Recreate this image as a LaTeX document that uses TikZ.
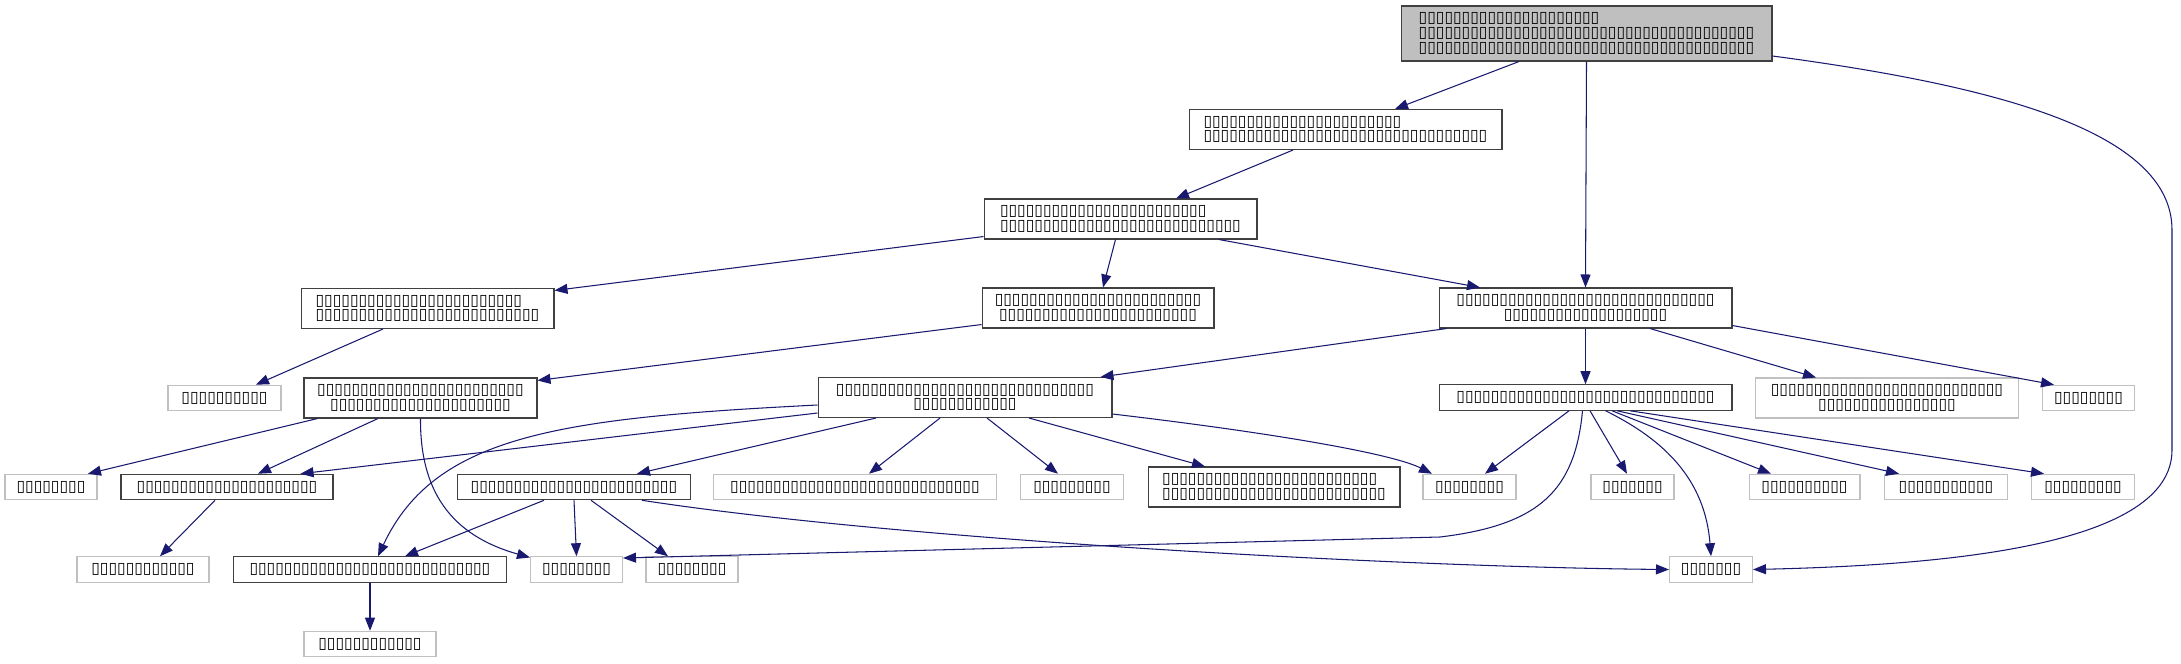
\documentclass[tikz,border=0pt]{standalone}
\usepackage{fontspec}
\setmainfont{DejaVu Sans}
\usepackage{xcolor}
\usetikzlibrary{arrows.meta}

\definecolor{edgeblue}{HTML}{191970}
\definecolor{greyfill}{HTML}{BFBFBF}
\definecolor{greyline}{HTML}{C0C0C0}
\definecolor{darkline}{HTML}{404040}

\begin{document}
\begin{tikzpicture}[
    x=0.02cm, y=-0.02cm,
    font=\fontsize{8.9}{8.34}\selectfont,
    hdr/.style={
        rectangle,
        draw=darkline,
        line width=0.6pt,
        inner sep=0pt,
        minimum height=0.51cm,
        align=center
    },
    ext/.style={hdr, draw=greyline},
    rootbox/.style={hdr, fill=greyfill, minimum height=1.1cm, align=left},
    two/.style={minimum height=0.8cm},
    dep/.style={-{Triangle[length=0.26cm, width=0.2cm]}, edgeblue, line width=0.6pt}
]
\useasboundingbox (0,0) rectangle (2181,663);

% Files
\node[rootbox, minimum width=7.42cm] (top) at (1586.5,33.5) {▯▯▯▯▯▯▯▯▯▯▯▯▯▯▯▯▯▯▯▯▯\\▯▯▯▯▯▯▯▯▯▯▯▯▯▯▯▯▯▯▯▯▯▯▯▯▯▯▯▯▯▯▯▯▯▯▯▯▯▯▯\\▯▯▯▯▯▯▯▯▯▯▯▯▯▯▯▯▯▯▯▯▯▯▯▯▯▯▯▯▯▯▯▯▯▯▯▯▯▯▯};
\node[hdr, two, align=left, minimum width=6.26cm] (ha) at (1345.5,129.5) {▯▯▯▯▯▯▯▯▯▯▯▯▯▯▯▯▯▯▯▯▯▯▯\\▯▯▯▯▯▯▯▯▯▯▯▯▯▯▯▯▯▯▯▯▯▯▯▯▯▯▯▯▯▯▯▯▯};
\node[hdr, two, align=left, minimum width=5.46cm] (hb) at (1120.5,219) {▯▯▯▯▯▯▯▯▯▯▯▯▯▯▯▯▯▯▯▯▯▯▯▯\\▯▯▯▯▯▯▯▯▯▯▯▯▯▯▯▯▯▯▯▯▯▯▯▯▯▯▯▯};
\node[hdr, two, align=left, minimum width=5.06cm] (hc) at (427.5,308.5) {▯▯▯▯▯▯▯▯▯▯▯▯▯▯▯▯▯▯▯▯▯▯▯▯\\▯▯▯▯▯▯▯▯▯▯▯▯▯▯▯▯▯▯▯▯▯▯▯▯▯▯};
\node[hdr, two, minimum width=4.64cm] (hd) at (1098,308) {▯▯▯▯▯▯▯▯▯▯▯▯▯▯▯▯▯▯▯▯▯▯▯▯\\▯▯▯▯▯▯▯▯▯▯▯▯▯▯▯▯▯▯▯▯▯▯▯};
\node[hdr, two, minimum width=5.86cm] (he) at (1585.5,308) {▯▯▯▯▯▯▯▯▯▯▯▯▯▯▯▯▯▯▯▯▯▯▯▯▯▯▯▯▯▯\\▯▯▯▯▯▯▯▯▯▯▯▯▯▯▯▯▯▯▯};

\node[ext, minimum width=2.26cm] (sf) at (224.5,398) {▯▯▯▯▯▯▯▯▯▯};
\node[hdr, two, minimum width=4.66cm] (hg) at (420.5,398) {▯▯▯▯▯▯▯▯▯▯▯▯▯▯▯▯▯▯▯▯▯▯▯▯\\▯▯▯▯▯▯▯▯▯▯▯▯▯▯▯▯▯▯▯▯▯};
\node[hdr, two, minimum width=5.88cm] (hh) at (965,397.5) {▯▯▯▯▯▯▯▯▯▯▯▯▯▯▯▯▯▯▯▯▯▯▯▯▯▯▯▯▯▯\\▯▯▯▯▯▯▯▯▯▯▯▯};
\node[hdr, minimum width=5.86cm] (hi) at (1585.5,397.5) {▯▯▯▯▯▯▯▯▯▯▯▯▯▯▯▯▯▯▯▯▯▯▯▯▯▯▯▯▯▯};
\node[ext, two, minimum width=5.26cm] (sj) at (1887,398) {▯▯▯▯▯▯▯▯▯▯▯▯▯▯▯▯▯▯▯▯▯▯▯▯▯▯▯\\▯▯▯▯▯▯▯▯▯▯▯▯▯▯▯▯};
\node[ext, minimum width=1.84cm] (sk) at (2088.5,398) {▯▯▯▯▯▯▯▯};

\node[ext, minimum width=1.84cm] (sl) at (51,487) {▯▯▯▯▯▯▯▯};
\node[hdr, minimum width=4.24cm] (hm) at (227,487) {▯▯▯▯▯▯▯▯▯▯▯▯▯▯▯▯▯▯▯▯▯};
\node[hdr, minimum width=4.66cm] (hn) at (574,487) {▯▯▯▯▯▯▯▯▯▯▯▯▯▯▯▯▯▯▯▯▯▯▯▯};
\node[ext, minimum width=5.66cm] (so) at (855,487) {▯▯▯▯▯▯▯▯▯▯▯▯▯▯▯▯▯▯▯▯▯▯▯▯▯▯▯▯▯};
\node[ext, minimum width=2.06cm] (sp) at (1072,487) {▯▯▯▯▯▯▯▯▯};
\node[hdr, two, align=left, minimum width=5.04cm] (hq) at (1274,487) {▯▯▯▯▯▯▯▯▯▯▯▯▯▯▯▯▯▯▯▯▯▯▯▯▯\\▯▯▯▯▯▯▯▯▯▯▯▯▯▯▯▯▯▯▯▯▯▯▯▯▯▯};
\node[ext, minimum width=1.86cm] (sr) at (1469.5,487) {▯▯▯▯▯▯▯▯};
\node[ext, minimum width=1.66cm] (ss) at (1632.5,487) {▯▯▯▯▯▯▯};
\node[ext, minimum width=2.22cm] (st) at (1804.5,487) {▯▯▯▯▯▯▯▯▯▯};
\node[ext, minimum width=2.46cm] (su) at (1946,487) {▯▯▯▯▯▯▯▯▯▯▯};
\node[ext, minimum width=2.06cm] (sv) at (2083,487) {▯▯▯▯▯▯▯▯▯};

\node[ext, minimum width=2.64cm] (sab) at (143,569.5) {▯▯▯▯▯▯▯▯▯▯▯▯};
\node[hdr, minimum width=5.46cm] (hx) at (370,569.5) {▯▯▯▯▯▯▯▯▯▯▯▯▯▯▯▯▯▯▯▯▯▯▯▯▯▯▯▯};
\node[ext, minimum width=1.84cm] (sy) at (576.5,569.5) {▯▯▯▯▯▯▯▯};
\node[ext, minimum width=1.84cm] (sz) at (692,569.5) {▯▯▯▯▯▯▯▯};
\node[ext, minimum width=1.66cm] (sw) at (1711,569.5) {▯▯▯▯▯▯▯};
\node[ext, minimum width=2.64cm] (saa) at (370,644) {▯▯▯▯▯▯▯▯▯▯▯▯};

% Includes
\draw[dep] ([xshift=-1.35cm]top.south) -- ([xshift=0.99cm]ha.north);
\draw[dep] (top.south) -- (he.north);
\draw[dep] ([yshift=-0.45cm]top.east) .. controls (1990,85) and (2172,130) .. (2172,230) -- (2172,450) .. controls (2172,545) and (1950,565) .. (sw.east);

\draw[dep] ([xshift=-1.05cm]ha.south) -- ([xshift=1.11cm]hb.north);
\draw[dep] ([yshift=0.06cm]hb.south west) -- ([yshift=-0.05cm]hc.north east);
\draw[dep] ([xshift=-0.1cm]hb.south) -- ([xshift=0.1cm]hd.north);
\draw[dep] ([xshift=1.97cm]hb.south) -- ([xshift=-2.11cm]he.north);

\draw[dep] ([xshift=-0.89cm]hc.south) -- ([xshift=0.63cm]sf.north);
\draw[dep] ([yshift=0.08cm]hd.south west) -- ([yshift=-0.06cm]hg.north east);

\draw[dep] (he.south) -- (hi.north);
\draw[dep] ([xshift=0.16cm]he.south west) -- ([xshift=-0.24cm]hh.north east);
\draw[dep] ([xshift=1.29cm]he.south) -- ([xshift=-1.42cm]sj.north);
\draw[dep] ([yshift=0.06cm]he.south east) -- ([xshift=-0.69cm]sk.north);

\draw[dep] ([xshift=0.28cm]hg.south west) -- ([xshift=0.74cm]sl.north);
\draw[dep] ([xshift=-0.85cm]hg.south) -- ([xshift=0.62cm]hm.north);
\draw[dep] (hg.south) .. controls (420,490) and (450,535) .. ([yshift=0.24cm]sy.west);

\draw[dep] ([yshift=-0.31cm]hh.west) -- ([xshift=-0.66cm]hm.north east);
\draw[dep] ([yshift=-0.15cm]hh.west) .. controls (560,418) and (435,435) .. ([xshift=0.16cm]hx.north);
\draw[dep] ([xshift=-1.78cm]hh.south) -- ([xshift=1.26cm]hn.north);
\draw[dep] ([xshift=-0.5cm]hh.south) -- ([xshift=0.28cm]so.north);
\draw[dep] ([xshift=0.44cm]hh.south) -- ([xshift=-0.28cm]sp.north);
\draw[dep] ([xshift=1.28cm]hh.south) -- ([xshift=-1.38cm]hq.north);
\draw[dep] ([yshift=-0.33cm]hh.east) .. controls (1290,435) and (1395,455) .. ([xshift=-0.75cm]sr.north);

\draw[dep] ([xshift=-0.33cm]hi.south) -- ([xshift=0.31cm]sr.north);
\draw[dep] ([xshift=-0.06cm]hi.south) .. controls (1575,490) and (1540,525) .. (1440,537) -- ([yshift=0.23cm]sy.east);
\draw[dep] ([xshift=0.09cm]hi.south) -- ([xshift=-0.11cm]ss.north);
\draw[dep] ([xshift=0.4cm]hi.south) .. controls (1665,440) and (1705,480) .. (sw.north);
\draw[dep] ([xshift=0.53cm]hi.south) -- ([xshift=-0.67cm]st.north);
\draw[dep] ([xshift=0.63cm]hi.south) -- ([xshift=-0.94cm]su.north);
\draw[dep] ([xshift=0.89cm]hi.south) -- ([xshift=-0.78cm]sv.north);

\draw[dep] ([xshift=-0.24cm]hm.south) -- ([xshift=0.34cm]sab.north);
\draw[dep] ([xshift=-0.6cm]hn.south) -- ([xshift=0.7cm]hx.north);
\draw[dep] (hn.south) -- (sy.north);
\draw[dep] ([xshift=0.34cm]hn.south) -- ([xshift=-0.48cm]sz.north);
\draw[dep] ([xshift=1.36cm]hn.south) .. controls (900,540) and (1400,567) .. (sw.west);
\draw[dep] (hx.south) -- (saa.north);

\end{tikzpicture}
\end{document}
